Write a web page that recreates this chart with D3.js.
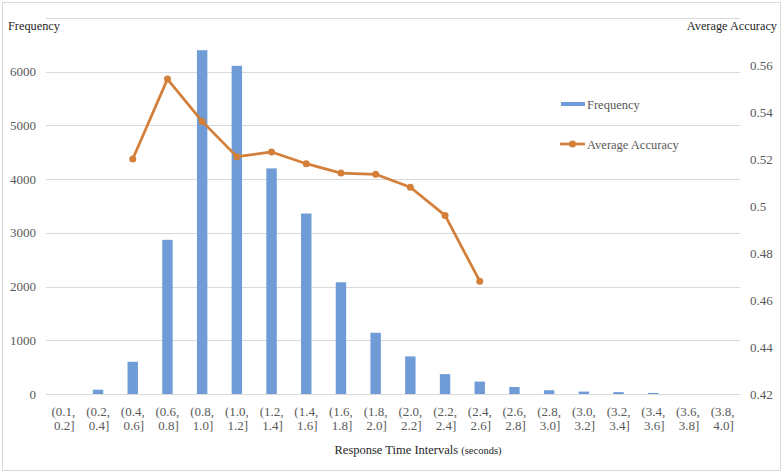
<!DOCTYPE html>
<html>
<head>
<meta charset="utf-8">
<script src="https://cdn.jsdelivr.net/npm/d3@7"></script>
<style>
  body { margin: 0; background: #fff; }
  text { font-family: "Liberation Serif", "Times New Roman", serif; }
</style>
</head>
<body>
<div class="chart"></div>
<script>
const intervals = ["(0.1,|0.2]", "(0.2,|0.4]", "(0.4,|0.6]", "(0.6,|0.8]", "(0.8,|1.0]", "(1.0,|1.2]", "(1.2,|1.4]", "(1.4,|1.6]", "(1.6,|1.8]", "(1.8,|2.0]",
    "(2.0,|2.2]", "(2.2,|2.4]", "(2.4,|2.6]", "(2.6,|2.8]", "(2.8,|3.0]", "(3.0,|3.2]", "(3.2,|3.4]", "(3.4,|3.6]", "(3.6,|3.8]", "(3.8,|4.0]"];
const frequency = [0, 80, 600, 2870, 6400, 6110, 4200, 3360, 2080, 1140, 700, 370, 230, 130, 70, 45, 35, 20, 0, 0];
const accuracy = [null, null, 0.52, 0.554, 0.536, 0.521, 0.523, 0.518, 0.514, 0.5135, 0.508, 0.496, 0.468,
    null, null, null, null, null, null, null];
const freqTicks = [0, 1000, 2000, 3000, 4000, 5000, 6000, 7000];
const accTicks = [0.42, 0.44, 0.46, 0.48, 0.5, 0.52, 0.54, 0.56, 0.58];

const svgWidth = 784, svgHeight = 474;
const plotLeft = 46, plotRight = 740, plotTop = 18, plotBottom = 394;
const barColor = "#6f9bd6", lineColor = "#d37f3a";

const svg = d3.select(".chart").append("svg")
    .attr("width", svgWidth)
    .attr("height", svgHeight);

// outer frame
svg.append("rect")
    .attr("x", 2.5).attr("y", 2.5)
    .attr("width", 778).attr("height", 468)
    .attr("fill", "#fff")
    .attr("stroke", "#d9d9d9");

const x = d3.scaleBand().domain(intervals).range([plotLeft, plotRight]).paddingInner(0.7).paddingOuter(0.35);
const xc = d3.scaleBand().domain(intervals).range([plotLeft, plotRight]);
const yL = d3.scaleLinear().domain([0, 7000]).range([plotBottom, plotTop]);
const yR = d3.scaleLinear().domain([0.42, 0.58]).range([plotBottom, plotTop]);

// gridlines
svg.append("g").selectAll("line")
    .data(freqTicks)
    .enter().append("line")
    .attr("x1", plotLeft).attr("x2", plotRight)
    .attr("y1", d => Math.round(yL(d)) + 0.5)
    .attr("y2", d => Math.round(yL(d)) + 0.5)
    .attr("stroke", "#d9d9d9");

// left axis labels
svg.append("g").selectAll("text")
    .data(freqTicks.slice(0, -1))
    .enter().append("text")
    .attr("x", 36)
    .attr("y", d => yL(d) + 4.5)
    .attr("text-anchor", "end")
    .attr("font-size", 13)
    .attr("fill", "#595959")
    .text(d => d);

// right axis labels
svg.append("g").selectAll("text")
    .data(accTicks.slice(0, -1))
    .enter().append("text")
    .attr("x", 750)
    .attr("y", d => yR(d) + 4.5)
    .attr("font-size", 13)
    .attr("fill", "#595959")
    .text(d => d3.format("~g")(d));

// axis titles
svg.append("text")
    .attr("x", 8).attr("y", 30)
    .attr("font-size", 12.3)
    .attr("fill", "#262626")
    .text("Frequency");

svg.append("text")
    .attr("x", 777).attr("y", 30)
    .attr("text-anchor", "end")
    .attr("font-size", 12.3)
    .attr("fill", "#262626")
    .text("Average Accuracy");

// bars
svg.append("g").selectAll("rect")
    .data(intervals.map((c, i) => ({c, v: frequency[i]})))
    .enter().append("rect")
    .attr("x", d => x(d.c))
    .attr("y", d => yL(d.v))
    .attr("width", x.bandwidth())
    .attr("height", d => plotBottom - yL(d.v))
    .attr("fill", barColor);

// x labels
const xl = svg.append("g").selectAll("text")
    .data(intervals)
    .enter().append("text")
    .attr("x", d => xc(d) + xc.bandwidth() / 2)
    .attr("text-anchor", "middle")
    .attr("font-size", 13)
    .attr("fill", "#595959");
xl.append("tspan").attr("x", d => xc(d) + xc.bandwidth() / 2).attr("y", 416).text(d => d.split("|")[0]);
xl.append("tspan").attr("x", d => xc(d) + xc.bandwidth() / 2 + 1).attr("y", 430).text(d => d.split("|")[1]);

// x title
const xt = svg.append("text")
    .attr("x", 418).attr("y", 454)
    .attr("text-anchor", "middle")
    .attr("fill", "#262626");
xt.append("tspan").attr("font-size", 12.5).text("Response Time Intervals ");
xt.append("tspan").attr("font-size", 10.5).text(" (seconds)");

// line
const pts = intervals.map((c, i) => ({c, v: accuracy[i]})).filter(d => d.v !== null);
const line = d3.line()
    .x(d => xc(d.c) + xc.bandwidth() / 2)
    .y(d => yR(d.v));

svg.append("path")
    .datum(pts)
    .attr("d", line)
    .attr("fill", "none")
    .attr("stroke", lineColor)
    .attr("stroke-width", 2.75)
    .attr("stroke-linejoin", "round");

svg.append("g").selectAll("circle")
    .data(pts)
    .enter().append("circle")
    .attr("cx", d => xc(d.c) + xc.bandwidth() / 2)
    .attr("cy", d => yR(d.v))
    .attr("r", 3.5)
    .attr("fill", lineColor);

// legend
const legend = svg.append("g");
legend.append("rect")
    .attr("x", 561).attr("y", 102)
    .attr("width", 24).attr("height", 4)
    .attr("fill", barColor);
legend.append("text")
    .attr("x", 587).attr("y", 108.5)
    .attr("font-size", 12.5)
    .attr("fill", "#595959")
    .text("Frequency");
legend.append("line")
    .attr("x1", 560).attr("x2", 585)
    .attr("y1", 144).attr("y2", 144)
    .attr("stroke", lineColor)
    .attr("stroke-width", 2.75);
legend.append("circle")
    .attr("cx", 572.5).attr("cy", 144).attr("r", 3.5)
    .attr("fill", lineColor);
legend.append("text")
    .attr("x", 587).attr("y", 148.5)
    .attr("font-size", 12.5)
    .attr("fill", "#595959")
    .text("Average Accuracy");
</script>
</body>
</html>
